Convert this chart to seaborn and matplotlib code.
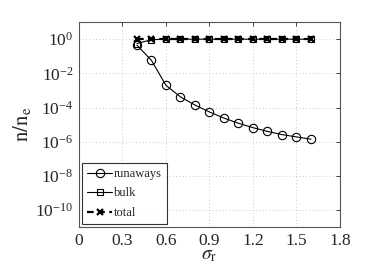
import matplotlib
matplotlib.use("Agg")
import matplotlib.pyplot as plt
import seaborn as sns
import numpy as np
import pandas as pd

sigma_r = [0.4, 0.5, 0.6, 0.7, 0.8, 0.9, 1.0, 1.1, 1.2, 1.3, 1.4, 1.5, 1.6]
runaways = [0.45, 5.8e-2, 2.0e-3, 4.2e-4, 1.4e-4, 5.5e-5, 2.4e-5, 1.2e-5, 6.6e-6, 4.0e-6, 2.6e-6, 1.9e-6, 1.4e-6]
bulk = [0.55, 0.94, 0.998, 1.0, 1.0, 1.0, 1.0, 1.0, 1.0, 1.0, 1.0, 1.0, 1.0]
total = [1.0] * 13
xticks = [0, 0.3, 0.6, 0.9, 1.2, 1.5, 1.8]
yticks = [1e0, 1e-2, 1e-4, 1e-6, 1e-8, 1e-10]

sns.set_style("white")
plt.rcParams['font.family'] = ['Liberation Serif', 'DejaVu Serif']
plt.rcParams['mathtext.fontset'] = 'stix'

fig = plt.figure(figsize=(3.74, 2.8), dpi=100)
ax = fig.add_axes([0.211, 0.189, 0.698, 0.732])

df = pd.DataFrame({'x': sigma_r, 'runaways': runaways, 'bulk': bulk, 'total': total})

sns.lineplot(data=df, x='x', y='runaways', ax=ax, color='black', lw=0.8,
             marker='o', markersize=6, markerfacecolor='none', markeredgecolor='black',
             markeredgewidth=0.8, label='runaways')
sns.lineplot(data=df, x='x', y='bulk', ax=ax, color='black', lw=0.8,
             marker='s', markersize=5, markerfacecolor='none', markeredgecolor='black',
             markeredgewidth=0.8, label='bulk')
sns.lineplot(data=df, x='x', y='total', ax=ax, color='black', lw=1.6,
             linestyle=(0, (3, 2)), marker='x', markersize=5, markeredgewidth=1.6,
             markeredgecolor='black', label='total')

ax.set_yscale('log')
ax.set_xlim(0, 1.8)
ax.set_ylim(1e-11, 1e1)
ax.set_xticks(xticks)
ax.set_xticklabels([('%g' % t) for t in xticks])
ax.set_yticks(yticks)
ax.yaxis.set_major_formatter(matplotlib.ticker.LogFormatterMathtext())
ax.yaxis.set_minor_locator(matplotlib.ticker.NullLocator())
ax.tick_params(axis='both', direction='in', length=3, width=0.6, labelsize=12.5, pad=4)
ax.tick_params(top=True, right=True)
ax.grid(True, color='#b8b8b8', linestyle=(0, (1, 3)), linewidth=0.6)
for s in ax.spines.values():
    s.set_linewidth(0.8)
    s.set_color('#555555')

ax.set_xlabel(r'$\sigma_\mathrm{r}$', fontsize=14, labelpad=-1)
ax.set_ylabel(r'$\mathrm{n/n_e}$', fontsize=15, labelpad=2)

leg = ax.legend(loc='lower left', fontsize=9, frameon=True, fancybox=False,
                edgecolor='black', borderaxespad=0.25, handlelength=2.0,
                handletextpad=0.15, labelspacing=0.6, borderpad=0.4)
leg.get_frame().set_linewidth(0.8)

fig.savefig('out.png', dpi=100)
